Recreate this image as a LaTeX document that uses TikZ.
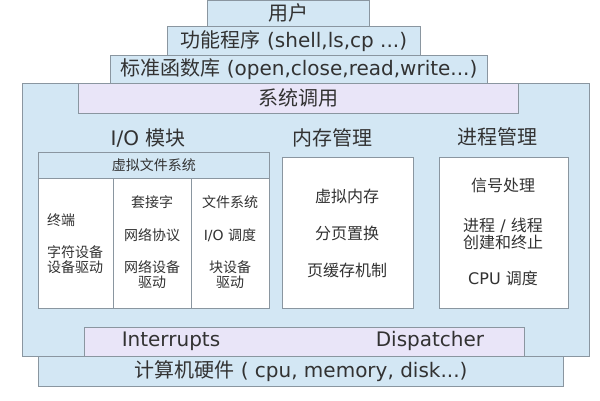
\documentclass[tikz,border=0pt]{standalone}
\usepackage{fontspec}
\setmainfont{DejaVu Sans}
\newfontfamily\zh{Noto Sans CJK SC}
\usetikzlibrary{positioning}
\definecolor{boxblue}{RGB}{211,231,244}
\definecolor{boxlilac}{RGB}{233,229,248}
\definecolor{boxline}{RGB}{138,150,160}
\definecolor{txt}{RGB}{50,50,50}

\begin{document}
\begin{tikzpicture}[x=1pt, y=-1pt]
        \tikzstyle{layer} = [draw = boxline, fill = boxblue, line width = 0.8pt, anchor = north west, inner sep = 0pt, text = txt, font = \fontsize{20}{24}\selectfont]
        \tikzstyle{lilac} = [layer, fill = boxlilac]
        \tikzstyle{cell} = [layer, fill = white]
        \tikzstyle{title} = [text = txt, inner sep = 0pt, font = \fontsize{20}{24}\selectfont]
        \tikzstyle{item} = [text = txt, inner sep = 0pt, align = center, font = \fontsize{16}{17}\selectfont]
        \tikzstyle{small} = [text = txt, inner sep = 0pt, align = center, font = \fontsize{14}{15}\selectfont]
        \useasboundingbox (0,0) rectangle (600,400);
        % kernel and the layers above it
        \node[layer, minimum width = 567pt, minimum height = 273pt] (kernel) at (22,83) {};
        \node[layer, minimum width = 162pt, minimum height = 26pt] (user) at (207,0) {\zh 用户};
        \node[layer, minimum width = 253pt, minimum height = 29pt] (prog) at (167,26) {{\zh 功能程序} (shell,ls,cp ...)};
        \node[layer, minimum width = 377pt, minimum height = 28pt] (lib) at (110,55) {{\zh 标准函数库} (open,close,read,write...)};
        \node[lilac, minimum width = 440pt, minimum height = 30pt] (syscall) at (78,83) {\zh 系统调用};
        % I/O
        \node[title] (io) at (148,138) {I/O {\zh 模块}};
        \node[layer, minimum width = 231pt, minimum height = 26pt, font = \fontsize{14}{15}\selectfont] (vfs) at (38,152) {\zh 虚拟文件系统};
        \node[cell, minimum width = 75pt, minimum height = 130pt] (tty) at (38,178) {};
        \node[cell, minimum width = 78pt, minimum height = 130pt] (net) at (113,178) {};
        \node[cell, minimum width = 78pt, minimum height = 130pt] (blk) at (191,178) {};
        \node[small, anchor = west] (term) at (47,220) {\zh 终端};
        \node[small, anchor = west, align = left] (chr) at (47,260) {\zh 字符设备\\ \zh 设备驱动};
        \node[small] (sock) at (152,202) {\zh 套接字};
        \node[small] (proto) at (152,235) {\zh 网络协议};
        \node[small] (ndev) at (152,275) {\zh 网络设备\\ \zh 驱动};
        \node[small] (fs) at (230,202) {\zh 文件系统};
        \node[small] (iosched) at (230,235) {I/O {\zh 调度}};
        \node[small] (bdev) at (230,275) {\zh 块设备\\ \zh 驱动};
        % memory
        \node[title] (mm) at (332,138) {\zh 内存管理};
        \node[cell, minimum width = 131pt, minimum height = 151pt] (mmbox) at (282,157) {};
        \node[item] (vmem) at (347,196) {\zh 虚拟内存};
        \node[item] (swap) at (347,233) {\zh 分页置换};
        \node[item] (cache) at (347,270) {\zh 页缓存机制};
        % process
        \node[title] (pm) at (497,137) {\zh 进程管理};
        \node[cell, minimum width = 129pt, minimum height = 151pt] (pmbox) at (439,157) {};
        \node[item] (sig) at (503,185) {\zh 信号处理};
        \node[item] (thr) at (503,234) {{\zh 进程} / {\zh 线程}\\ \zh 创建和终止};
        \node[item] (cpu) at (503,278) {CPU {\zh 调度}};
        % bottom
        \node[lilac, minimum width = 440pt, minimum height = 29pt] (irq) at (84,327) {};
        \node[title] (intr) at (171,341) {Interrupts};
        \node[title] (disp) at (430,341) {Dispatcher};
        \node[layer, minimum width = 525pt, minimum height = 30pt] (hw) at (38,356) {{\zh 计算机硬件} ( cpu, memory, disk...)};
      \end{tikzpicture}
\end{document}
